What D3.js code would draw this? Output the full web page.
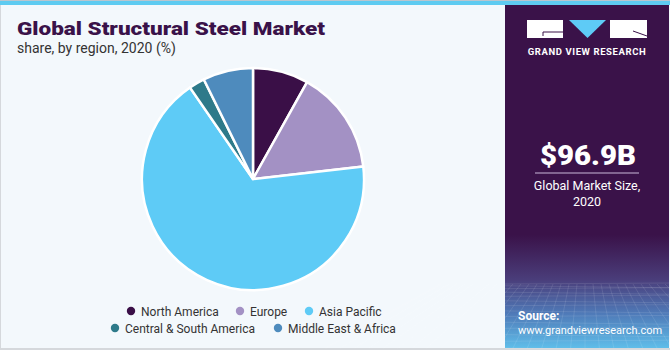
<!DOCTYPE html>
<html>
<head>
<meta charset="utf-8">
<script src="https://cdn.jsdelivr.net/npm/d3@7"></script>
<style>
  body { margin: 0; background: #fff; }
  svg { display: block; font-family: "Roboto", "Liberation Sans", sans-serif; }
</style>
</head>
<body>
<div id="vis"></div>
<script>
// data
const regions = ["North America", "Europe", "Asia Pacific", "Central & South America", "Middle East & Africa"];
const shares = [8.1, 15.1, 67.2, 2.3, 7.3];
const colors = ["#3a0f47", "#a391c4", "#5ecbf6", "#2e7a8a", "#4e8bbd"];
const legendRows = [[0, 1, 2], [3, 4]];

const width = 670, height = 350;
const panelX = 505;

const svg = d3.select("#vis").append("svg")
  .attr("width", width)
  .attr("height", height);

////////// background //////////
svg.append("rect").attr("width", width).attr("height", height).attr("fill", "#f3f8fc");
svg.append("rect").attr("x", 0).attr("y", 0).attr("width", 1).attr("height", height).attr("fill", "#d5d8dc");
svg.append("rect").attr("x", 0).attr("y", height - 2).attr("width", width).attr("height", 2).attr("fill", "#d5d8dc");
svg.append("rect").attr("x", 0).attr("y", 0).attr("width", width).attr("height", 1).attr("fill", "#b9c6cf");
svg.append("rect").attr("x", 0).attr("y", 1).attr("width", width).attr("height", 4).attr("fill", "#5ecbf1");

////////// right panel //////////
const defs = svg.append("defs");
const grad = defs.append("linearGradient").attr("id", "panelGrad")
  .attr("x1", 0).attr("y1", 0).attr("x2", 0).attr("y2", 1);
grad.append("stop").attr("offset", "0%").attr("stop-color", "#3a1249");
grad.append("stop").attr("offset", "67%").attr("stop-color", "#3a1249");
grad.append("stop").attr("offset", "80%").attr("stop-color", "#4a3d7a");
grad.append("stop").attr("offset", "90%").attr("stop-color", "#4f7ab8");
grad.append("stop").attr("offset", "100%").attr("stop-color", "#5fbde9");

const panel = svg.append("g");
panel.append("rect")
  .attr("x", panelX).attr("y", 5)
  .attr("width", 164).attr("height", height - 7)
  .attr("fill", "url(#panelGrad)");

// faint grid texture at the bottom of the panel
const grid = panel.append("g").attr("stroke", "#ffffff").attr("stroke-opacity", 0.13).attr("stroke-width", 0.8);
for (let i = 0; i < 14; i++) {
  const y = 284 + Math.pow(i / 13, 1.4) * 64;
  grid.append("line").attr("x1", panelX).attr("x2", 669).attr("y1", y).attr("y2", y + (i % 2 ? 2 : -1));
}
for (let i = -8; i < 26; i++) {
  const xt = panelX + i * 8;
  grid.append("line").attr("x1", xt).attr("y1", 284).attr("x2", panelX + 80 + (xt - panelX - 80) * 1.8).attr("y2", 348);
}

// logo
const logo = panel.append("g");
logo.append("rect").attr("x", 527).attr("y", 20).attr("width", 36).attr("height", 18).attr("fill", "#fff");
logo.append("path").attr("d", "M569,20 L606,20 L587.5,38 Z").attr("fill", "#5ecbf6");
logo.append("rect").attr("x", 610).attr("y", 20).attr("width", 37).attr("height", 18).attr("fill", "#fff");
logo.append("path").attr("d", "M543,36 L543,32 L563,32").attr("fill", "none").attr("stroke", "#3a1249").attr("stroke-width", 1);
logo.append("path").attr("d", "M633,31 L647,36").attr("fill", "none").attr("stroke", "#3a1249").attr("stroke-width", 1);
logo.append("text")
  .attr("x", 587).attr("y", 55)
  .attr("text-anchor", "middle")
  .attr("fill", "#fff")
  .attr("font-size", 9.5).attr("font-weight", 700)
  .attr("letter-spacing", 0.6)
  .text("GRAND VIEW RESEARCH");

// market size
panel.append("text")
  .attr("x", 540).attr("y", 165)
  .attr("fill", "#fff")
  .attr("font-size", 28).attr("font-weight", 900)
  .attr("textLength", 96).attr("lengthAdjust", "spacingAndGlyphs")
  .text("$96.9B");
panel.append("line")
  .attr("x1", 535).attr("x2", 639).attr("y1", 173).attr("y2", 173)
  .attr("stroke", "#c9b8da").attr("stroke-width", 1.2);
panel.append("text")
  .attr("x", 587).attr("y", 190)
  .attr("text-anchor", "middle").attr("fill", "#fff").attr("font-size", 12.5)
  .text("Global Market Size,");
panel.append("text")
  .attr("x", 587).attr("y", 206)
  .attr("text-anchor", "middle").attr("fill", "#fff").attr("font-size", 12.5)
  .text("2020");

// source
panel.append("text")
  .attr("x", 518).attr("y", 320)
  .attr("fill", "#fff").attr("font-size", 12).attr("font-weight", 700)
  .text("Source:");
panel.append("text")
  .attr("x", 518).attr("y", 334)
  .attr("fill", "#fff").attr("font-size", 11)
  .text("www.grandviewresearch.com");

////////// titles //////////
svg.append("text")
  .attr("x", 17).attr("y", 35)
  .attr("fill", "#3a1249")
  .attr("font-size", 19).attr("font-weight", 900)
  .attr("textLength", 308).attr("lengthAdjust", "spacingAndGlyphs")
  .text("Global Structural Steel Market");
svg.append("text")
  .attr("x", 17).attr("y", 53)
  .attr("fill", "#333")
  .attr("font-size", 14)
  .text("share, by region, 2020 (%)");

////////// pie //////////
const cx = 253, cy = 179, radius = 111;
const pie = d3.pie().sort(null).value(d => d.value);
const arc = d3.arc().innerRadius(0).outerRadius(radius);
const data = regions.map((r, i) => ({ name: r, value: shares[i], color: colors[i] }));

svg.append("g")
  .attr("transform", "translate(" + cx + "," + cy + ")")
  .selectAll("path")
  .data(pie(data))
  .enter()
  .append("path")
  .attr("d", arc)
  .attr("fill", d => d.data.color)
  .attr("stroke", "#fff")
  .attr("stroke-width", 2.5)
  .attr("stroke-linejoin", "round");

////////// legend //////////
const legendY = [311, 328];
const legendX = [[131, 240, 309], [115, 278]];
const legend = svg.append("g").attr("font-size", 12).attr("fill", "#333");
legendRows.forEach((row, ri) => {
  row.forEach((idx, j) => {
    const x = legendX[ri][j];
    legend.append("circle")
      .attr("cx", x).attr("cy", legendY[ri]).attr("r", 4.2)
      .attr("fill", colors[idx]);
    legend.append("text")
      .attr("x", x + 10).attr("y", legendY[ri] + 4.5)
      .text(regions[idx]);
  });
});
</script>
</body>
</html>
